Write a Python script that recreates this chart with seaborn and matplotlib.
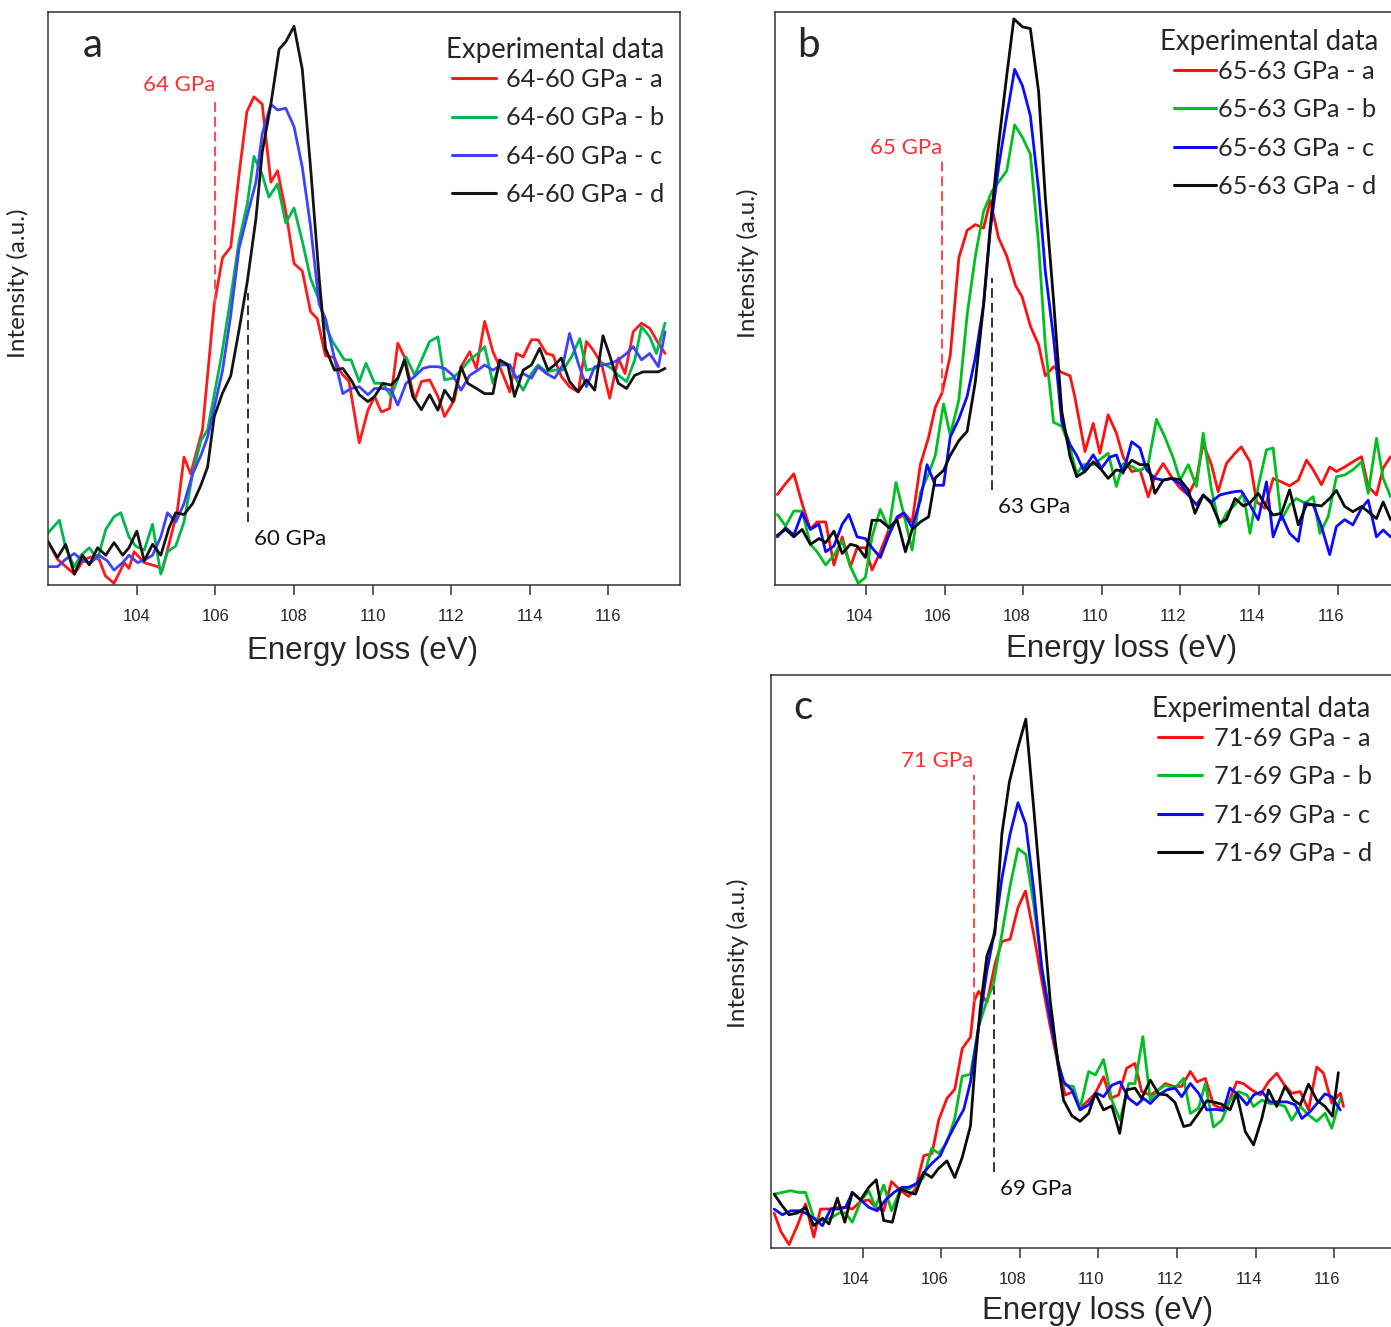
import matplotlib
matplotlib.use("Agg")
import matplotlib.pyplot as plt
import matplotlib.transforms as mtransforms
import pandas as pd
import seaborn as sns

sns.set_style("white")
plt.rcParams['font.family'] = ['Lato', 'DejaVu Sans']

# ---- data: (energy loss eV, intensity a.u.) ----
A_RED = [(101.73, 7.7), (101.98, 4.5), (102.41, 1.9), (102.66, 4.5), (103.0, 5.2), (103.2, 1.6), (103.42, 0.3),
         (103.68, 3.9), (103.8, 2.9), (103.93, 5.8), (104.19, 3.9), (104.53, 3.2), (104.65, 2.6), (105.03, 12.9),
         (105.2, 22.3), (105.37, 19.4), (105.67, 27.1), (105.97, 49), (106.18, 57.1), (106.39, 59), (106.6, 71.6),
         (106.8, 82.6), (106.98, 85.2), (107.19, 83.9), (107.41, 70.3), (107.58, 72.3), (107.79, 65.2), (108.0, 56.1),
         (108.21, 54.8), (108.42, 47.7), (108.59, 46.5), (108.8, 40), (109.02, 39.7), (109.19, 37.1), (109.4, 35.5),
         (109.66, 24.8), (109.88, 30.5), (110.05, 32.9), (110.22, 30.2), (110.43, 30.8), (110.64, 42.2), (110.81, 39.8),
         (111.07, 32.3), (111.24, 35.5), (111.45, 35.8), (111.66, 32.9), (111.83, 29.4), (112.08, 32.3), (112.25, 38.1),
         (112.47, 40.7), (112.64, 37.8), (112.85, 46), (113.06, 40.7), (113.27, 37.5), (113.49, 33.7), (113.66, 40.4),
         (113.83, 39.8), (114.04, 42.8), (114.21, 42.8), (114.42, 40.4), (114.59, 40.1), (114.8, 36.4), (115.01, 34.6),
         (115.23, 33.7), (115.44, 42.5), (115.61, 41), (115.82, 38.7), (116.03, 32.6), (116.25, 39.6), (116.42, 36.9),
         (116.63, 44.2), (116.84, 45.7), (117.05, 44.8), (117.27, 42.2), (117.44, 40.4)]
A_GREEN = [(101.73, 9), (102.03, 11.3), (102.19, 6.5), (102.41, 3.2), (102.58, 5.2), (102.79, 6.5), (103.0, 4.5),
           (103.21, 9.7), (103.42, 11.9), (103.59, 12.6), (103.8, 8.4), (103.97, 6.8), (104.19, 6.1), (104.4, 10.6),
           (104.61, 1.9), (104.78, 5.8), (104.99, 6.8), (105.2, 11), (105.42, 19.4), (105.63, 25.2), (105.8, 27.1),
           (106.14, 39.4), (106.35, 48.4), (106.6, 60), (106.81, 66.5), (106.98, 74.8), (107.19, 71.6), (107.36, 67.7),
           (107.58, 70), (107.79, 63.2), (108.0, 65.8), (108.21, 60), (108.42, 53.5), (108.64, 49.7), (108.8, 45.2),
           (108.98, 42.5), (109.28, 39.3), (109.45, 39.3), (109.66, 35.5), (109.83, 38.7), (110.05, 35.2), (110.26, 35.2),
           (110.47, 32.9), (110.85, 39.8), (111.07, 36.6), (111.45, 42.5), (111.66, 43.3), (111.83, 35.8), (112.04, 36.1),
           (112.25, 37.5), (112.47, 39.3), (112.68, 40.4), (112.85, 41.6), (113.06, 35.2), (113.27, 39), (113.49, 38.4),
           (113.66, 35.8), (113.83, 34), (114.04, 36.9), (114.21, 38.4), (114.42, 37.2), (114.63, 37.5), (114.84, 37.5),
           (115.06, 39.8), (115.27, 43), (115.44, 37.5), (115.65, 37.8), (115.86, 38.7), (116.08, 37.8), (116.25, 36.6),
           (116.46, 35.5), (116.67, 39.3), (116.84, 45.1), (117.05, 43.3), (117.22, 40.4), (117.44, 45.7)]
A_BLUE = [(101.73, 3.2), (101.98, 3.2), (102.19, 4.5), (102.41, 5.5), (102.62, 4.2), (102.83, 3.9), (103.04, 5.2),
          (103.25, 4.2), (103.42, 2.6), (103.64, 3.9), (103.8, 5.2), (104.02, 3.9), (104.23, 4.5), (104.4, 5.2),
          (104.61, 8.4), (104.78, 12.6), (104.99, 11), (105.2, 14.2), (105.42, 19.4), (105.63, 22.6), (105.8, 25.8),
          (105.97, 31), (106.18, 37.4), (106.39, 47.1), (106.6, 58.7), (106.81, 64.5), (107.03, 70.3), (107.19, 78.7),
          (107.41, 83.9), (107.58, 82.9), (107.79, 83.2), (108.0, 80), (108.21, 72.9), (108.42, 62.6), (108.64, 49),
          (108.8, 46.5), (108.98, 41), (109.24, 33.4), (109.45, 34.3), (109.66, 34.6), (109.88, 33.2), (110.05, 34.3),
          (110.26, 34.3), (110.47, 34), (110.64, 31.4), (110.85, 35.2), (111.07, 36.4), (111.28, 37.8), (111.45, 38.1),
          (111.66, 38.1), (111.83, 37.8), (112.04, 36.6), (112.25, 34), (112.47, 36.6), (112.68, 37.5), (112.85, 38.4),
          (113.06, 37.5), (113.27, 38.4), (113.49, 38.4), (113.66, 36.1), (113.83, 36.9), (114.04, 36.1), (114.21, 38.1),
          (114.42, 36.9), (114.63, 36.1), (114.84, 38.4), (115.01, 43.9), (115.23, 38.7), (115.44, 34.6), (115.65, 38.1),
          (115.86, 38.4), (116.08, 38.7), (116.25, 39.3), (116.46, 40.4), (116.63, 41.6), (116.84, 39.3), (117.05, 40.4),
          (117.27, 38.1), (117.44, 44.2)]
A_BLACK = [(101.73, 7.7), (101.98, 4.8), (102.19, 7.1), (102.41, 1.9), (102.62, 5.2), (102.79, 3.5), (103.0, 6.5),
           (103.21, 5.2), (103.42, 7.4), (103.64, 5.2), (103.8, 6.5), (104.0, 9.4), (104.19, 4.2), (104.4, 7.1),
           (104.61, 5.2), (104.82, 10), (104.99, 12.6), (105.2, 12.3), (105.42, 14.2), (105.63, 17.4), (105.8, 20.6),
           (105.97, 29.4), (106.18, 33.5), (106.39, 36.5), (106.6, 44.5), (106.81, 52.9), (107.03, 63.9), (107.19, 75.5),
           (107.41, 83.9), (107.62, 93.5), (107.79, 94.8), (108.0, 97.5), (108.21, 90), (108.42, 72.9), (108.64, 53.5),
           (108.8, 41.3), (109.03, 37.5), (109.24, 37.8), (109.45, 35.8), (109.66, 33.2), (109.88, 32), (110.05, 32.9),
           (110.26, 35.2), (110.47, 34.9), (110.64, 36.1), (110.81, 39.3), (111.02, 32.9), (111.24, 30.6), (111.45, 33.2),
           (111.66, 30.5), (111.83, 34), (112.04, 32), (112.25, 38.1), (112.42, 35.2), (112.64, 34.3), (112.85, 33.4),
           (113.06, 33.4), (113.23, 39.3), (113.44, 38.4), (113.61, 32.9), (113.83, 37.5), (114.04, 38.4), (114.25, 41.3),
           (114.46, 37.5), (114.63, 38.4), (114.8, 39.6), (115.01, 35.5), (115.23, 33.7), (115.44, 35.8), (115.65, 34),
           (115.86, 43.5), (116.03, 40.1), (116.25, 35.2), (116.46, 34.3), (116.67, 36.6), (116.88, 37.2), (117.27, 37.2),
           (117.44, 37.8)]

B_RED = [(101.74, 15.8), (101.95, 17.7), (102.16, 19.4), (102.37, 14.2), (102.58, 9.7), (102.75, 11), (102.97, 11),
         (103.18, 3.5), (103.39, 8.4), (103.6, 3.2), (103.77, 6.5), (103.98, 6.5), (104.15, 2.6), (104.36, 5.8),
         (104.58, 9.7), (104.79, 11.6), (105.0, 12.3), (105.17, 11), (105.38, 21), (105.59, 25.8), (105.76, 31),
         (105.93, 33.5), (106.14, 40), (106.36, 57.1), (106.57, 61.9), (106.78, 62.9), (106.99, 62.3), (107.16, 67.1),
         (107.37, 60.6), (107.58, 57.4), (107.8, 52.3), (107.97, 50.3), (108.18, 45.2), (108.39, 41.9), (108.56, 36.5),
         (108.77, 38.1), (108.98, 37.1), (109.19, 36.5), (109.31, 32.9), (109.57, 23.3), (109.78, 28.2), (109.95, 23),
         (110.16, 29.7), (110.37, 26.5), (110.54, 22.4), (110.76, 19.8), (110.97, 20.1), (111.18, 15.4), (111.35, 18.9),
         (111.56, 21.2), (111.77, 18.9), (111.99, 16.9), (112.2, 15.7), (112.41, 18.6), (112.58, 24.7), (112.79, 21),
         (112.96, 16.3), (113.17, 21.2), (113.39, 23), (113.55, 24.1), (113.77, 21.5), (113.94, 14.5), (114.15, 13.4),
         (114.36, 18.6), (114.57, 18), (114.78, 17.3), (115.0, 18.3), (115.21, 21.8), (115.38, 20.1), (115.59, 17.5),
         (115.8, 20.6), (115.97, 19.8), (116.18, 20.6), (116.39, 21.5), (116.61, 22.4), (116.78, 17.2), (116.99, 15.7),
         (117.16, 20.4), (117.35, 22.4)]
B_GREEN = [(101.74, 12.3), (101.95, 10.3), (102.16, 12.9), (102.37, 12.9), (102.58, 7.1), (102.75, 5.8), (102.97, 3.5),
           (103.18, 5.2), (103.39, 7.7), (103.6, 3.2), (103.8, 0.3), (103.98, 1.3), (104.15, 8.4), (104.36, 13.2),
           (104.58, 9.7), (104.76, 17.9), (104.96, 12.3), (105.17, 6.1), (105.38, 16.1), (105.59, 19.4), (105.76, 22.6),
           (105.97, 31.6), (106.14, 26.1), (106.36, 32.3), (106.57, 47.1), (106.78, 57.4), (106.99, 65.2), (107.2, 68.7),
           (107.37, 70.3), (107.58, 72.3), (107.78, 80.3), (107.98, 78.1), (108.18, 75.2), (108.39, 59.4), (108.56, 41.9),
           (108.77, 28.4), (108.98, 27.7), (109.19, 23.9), (109.36, 19.4), (109.53, 21), (109.78, 21), (109.99, 22.1),
           (110.16, 23), (110.37, 17.2), (110.54, 21.2), (110.76, 20.7), (110.97, 19.8), (111.18, 21.2), (111.39, 28.9),
           (111.6, 25.9), (111.82, 22.1), (111.99, 18.3), (112.2, 21), (112.41, 17.2), (112.58, 26.5), (112.79, 16.6),
           (113.0, 10.2), (113.17, 12.5), (113.39, 14), (113.6, 16), (113.77, 9), (113.98, 17.2), (114.19, 23.6),
           (114.36, 23.9), (114.57, 11.4), (114.78, 14), (114.95, 15.1), (115.17, 14.3), (115.38, 15.4), (115.55, 9),
           (115.76, 11.9), (115.97, 18.9), (116.18, 19.2), (116.39, 20.1), (116.61, 21.5), (116.78, 16), (116.99, 25.6),
           (117.16, 18.6), (117.35, 15.4)]
B_BLUE = [(101.74, 8.4), (101.95, 10), (102.16, 8.7), (102.37, 12.6), (102.58, 9.7), (102.8, 10.6), (102.97, 5.8),
          (103.18, 6.8), (103.39, 10.6), (103.56, 12.3), (103.77, 8.4), (103.98, 8.1), (104.15, 6.5), (104.36, 4.8),
          (104.58, 8.7), (104.79, 11.9), (104.96, 12.6), (105.17, 10), (105.38, 14.8), (105.55, 21), (105.76, 17.4),
          (105.97, 17.4), (106.14, 25.8), (106.36, 29), (106.57, 32.9), (106.78, 39.7), (106.99, 49), (107.16, 61.9),
          (107.37, 72.9), (107.58, 81.9), (107.78, 90), (107.98, 87.1), (108.18, 81.9), (108.39, 69), (108.56, 54.8),
          (108.77, 43.2), (108.98, 28.4), (109.19, 24.5), (109.36, 22.6), (109.53, 20.1), (109.78, 22.7), (109.99, 20.4),
          (110.2, 22.3), (110.37, 22.7), (110.54, 19.5), (110.76, 25), (110.97, 23.9), (111.14, 20.1), (111.35, 18.6),
          (111.56, 18.3), (111.77, 18.6), (111.99, 17.7), (112.2, 15.7), (112.41, 14), (112.58, 15.7), (112.79, 14.5),
          (113.0, 15.7), (113.17, 16), (113.39, 16.3), (113.55, 16.4), (113.77, 14), (113.98, 11.4), (114.19, 18),
          (114.36, 8.4), (114.57, 12.2), (114.78, 9), (115.0, 7.6), (115.17, 14.3), (115.38, 14), (115.59, 10.2),
          (115.8, 5.3), (115.97, 10.2), (116.18, 11.4), (116.39, 10.5), (116.61, 13.4), (116.78, 14.8), (116.99, 8.4),
          (117.16, 9.6), (117.35, 8.4)]
B_BLACK = [(101.74, 8.7), (101.95, 9.7), (102.16, 8.4), (102.37, 9.7), (102.58, 7.1), (102.8, 8.1), (102.97, 7.4),
           (103.18, 9.4), (103.39, 5.5), (103.6, 7.1), (103.77, 6.8), (103.98, 4.8), (104.15, 11.3), (104.36, 11.3),
           (104.58, 10), (104.79, 11.3), (105.0, 5.8), (105.17, 9.7), (105.38, 11), (105.59, 11.9), (105.76, 18.7),
           (105.97, 20), (106.14, 22.6), (106.36, 25.2), (106.57, 26.8), (106.78, 35.5), (106.99, 49), (107.16, 62.6),
           (107.37, 76.8), (107.58, 89), (107.76, 98.8), (107.98, 97.4), (108.18, 97.1), (108.39, 86.1), (108.56, 67.7),
           (108.77, 49.7), (108.98, 30.3), (109.19, 22.4), (109.36, 18.9), (109.57, 19.8), (109.78, 21.5), (109.99, 20.1),
           (110.16, 18.6), (110.37, 20.1), (110.54, 19.8), (110.76, 21.8), (110.97, 21), (111.18, 21), (111.35, 16),
           (111.56, 18.3), (111.77, 18.6), (111.99, 18.4), (112.2, 16.6), (112.37, 12.5), (112.58, 15.7), (112.79, 14.2),
           (113.0, 10.8), (113.17, 11.4), (113.39, 15.1), (113.6, 13.8), (113.77, 14.3), (113.98, 16), (114.19, 13.7),
           (114.36, 12.2), (114.57, 12.5), (114.78, 16.6), (115.0, 10.5), (115.21, 14), (115.38, 14), (115.59, 13.8),
           (115.8, 15.1), (115.97, 16.5), (116.18, 13.7), (116.39, 12.8), (116.61, 13.7), (116.78, 12.8), (116.99, 11.6),
           (117.16, 14.5), (117.35, 11.4)]

C_RED = [(101.74, 6.1), (101.91, 2.9), (102.12, 0.6), (102.33, 3.9), (102.54, 7.7), (102.75, 1.9), (102.92, 6.8),
         (103.14, 6.8), (103.35, 7.1), (103.56, 7.1), (103.73, 6.8), (103.94, 8.1), (104.15, 8.4), (104.32, 7.1),
         (104.53, 6.5), (104.73, 11.6), (104.96, 10), (105.17, 9), (105.34, 10.3), (105.55, 16.1), (105.76, 16.5),
         (105.93, 22.3), (106.14, 26.1), (106.34, 27.7), (106.53, 34.8), (106.74, 36.8), (106.84, 43.2), (106.95, 44.8),
         (107.16, 42.9), (107.37, 49.7), (107.54, 53.5), (107.75, 53.9), (107.95, 59.4), (108.14, 62.3), (108.35, 54.8),
         (108.56, 46.5), (108.77, 38.7), (108.98, 31.6), (109.15, 26.7), (109.36, 27.3), (109.53, 24.4), (109.75, 25.8),
         (109.92, 27), (110.13, 29.9), (110.3, 26.1), (110.51, 26.7), (110.72, 31.4), (110.93, 32.2), (111.1, 27.3),
         (111.32, 26.7), (111.53, 27.6), (111.7, 28.7), (111.91, 28.2), (112.12, 28.2), (112.34, 30.8), (112.51, 29),
         (112.72, 29.6), (112.93, 25), (113.1, 24.4), (113.31, 25.3), (113.52, 29), (113.69, 28.7), (113.9, 27.6),
         (114.12, 26.7), (114.33, 29), (114.54, 30.5), (114.71, 28.7), (114.92, 27), (115.14, 27.3), (115.35, 24.1),
         (115.56, 31.6), (115.73, 30.5), (115.94, 25.3), (116.16, 27), (116.24, 24.7)]
C_GREEN = [(101.74, 9.4), (101.95, 9.7), (102.16, 10), (102.37, 9.7), (102.54, 9.7), (102.75, 5.2), (102.97, 4.8),
           (103.18, 5.2), (103.39, 6.1), (103.56, 6.1), (103.73, 4.5), (103.94, 8.1), (104.15, 10), (104.32, 7.1),
           (104.53, 11), (104.73, 6.5), (104.96, 10.3), (105.17, 10.3), (105.34, 11), (105.55, 12.3), (105.75, 17.4),
           (105.93, 16.5), (106.14, 18.4), (106.34, 22.6), (106.53, 30), (106.74, 30.3), (106.95, 38.7), (107.16, 43.2),
           (107.33, 46.1), (107.54, 54.8), (107.75, 63.2), (107.95, 69.7), (108.15, 68.7), (108.35, 60), (108.56, 49),
           (108.77, 40.6), (108.98, 31.6), (109.15, 28.4), (109.36, 28.2), (109.53, 24.4), (109.75, 30.8), (109.92, 30.2),
           (110.13, 32.9), (110.34, 25.8), (110.55, 22.3), (110.77, 28.7), (110.93, 28.7), (111.13, 36.9), (111.32, 25.8),
           (111.53, 27.6), (111.7, 28.4), (111.95, 27.9), (112.17, 29.6), (112.34, 23.5), (112.55, 24.4), (112.72, 28.7),
           (112.93, 21.1), (113.14, 22.3), (113.35, 25.8), (113.57, 27.3), (113.78, 26.7), (113.95, 24.7), (114.16, 25.8),
           (114.37, 25.2), (114.54, 25.2), (114.75, 24.7), (114.92, 22.3), (115.14, 24.7), (115.35, 23.2), (115.56, 22.1),
           (115.77, 23.5), (115.94, 20.9), (116.16, 26.1)]
C_BLUE = [(101.74, 6.8), (101.95, 5.8), (102.16, 6.5), (102.37, 6.5), (102.54, 6.1), (102.75, 5.2), (102.97, 3.9),
          (103.18, 6.8), (103.39, 6.8), (103.56, 7.1), (103.73, 9.7), (103.94, 8.4), (104.15, 7.1), (104.36, 6.5),
          (104.58, 8.4), (104.79, 9.7), (105.0, 10.6), (105.17, 10.6), (105.38, 11.3), (105.59, 13.5), (105.76, 14.8),
          (105.97, 16.1), (106.14, 18.7), (106.36, 21.6), (106.57, 24.2), (106.74, 29), (106.95, 38.7), (107.16, 48.4),
          (107.36, 55.5), (107.54, 64.5), (107.75, 72.3), (107.95, 77.7), (108.15, 73.9), (108.35, 62.6), (108.56, 48.4),
          (108.77, 40), (108.98, 32.3), (109.11, 29), (109.32, 27.6), (109.53, 24.1), (109.75, 25), (109.96, 27),
          (110.13, 26.4), (110.34, 28.4), (110.55, 29), (110.77, 26.1), (110.98, 25), (111.15, 26.1), (111.32, 25.2),
          (111.53, 26.7), (111.74, 27.6), (111.95, 27.9), (112.12, 26.4), (112.34, 28.7), (112.55, 27), (112.76, 24.1),
          (112.97, 24.2), (113.18, 24), (113.35, 27.9), (113.57, 26.7), (113.78, 25), (113.95, 26.7), (114.16, 27.3),
          (114.37, 25.5), (114.58, 25.5), (114.8, 25.5), (115.01, 25), (115.18, 22.6), (115.39, 23.8), (115.6, 25.5),
          (115.77, 26.9), (115.94, 26.4), (116.16, 24.1)]
C_BLACK = [(101.74, 9.4), (101.91, 7.7), (102.12, 5.8), (102.33, 6.1), (102.54, 7.1), (102.75, 3.9), (102.97, 5.2),
           (103.14, 4.2), (103.35, 8.7), (103.54, 4.5), (103.73, 9.7), (103.94, 8.4), (104.15, 10.6), (104.34, 11.9),
           (104.53, 4.8), (104.75, 4.5), (104.96, 10.3), (105.17, 9.7), (105.34, 9.4), (105.55, 13.2), (105.75, 12.3),
           (105.93, 13.9), (106.14, 15.2), (106.34, 12.3), (106.53, 15.8), (106.74, 21.3), (106.86, 32.3), (106.99, 41.9),
           (107.16, 51), (107.36, 54.8), (107.54, 72.3), (107.73, 81.3), (107.95, 87.4), (108.15, 92.3), (108.35, 76.8),
           (108.56, 60), (108.77, 43.2), (108.98, 31.6), (109.11, 25.8), (109.32, 23.1), (109.53, 22.1), (109.75, 23.5),
           (109.92, 27), (110.13, 24.1), (110.34, 24.8), (110.54, 20), (110.72, 27.6), (110.93, 27.9), (111.1, 26.1),
           (111.32, 29.3), (111.53, 26.9), (111.74, 26.7), (111.95, 25.4), (112.17, 21.2), (112.34, 21.5), (112.55, 23.5),
           (112.76, 25.7), (112.97, 25.4), (113.14, 25.1), (113.35, 24.1), (113.52, 27), (113.74, 20.3), (113.95, 18),
           (114.16, 22.6), (114.33, 27.6), (114.54, 24.7), (114.75, 28.2), (114.97, 25.8), (115.14, 25), (115.35, 28.6),
           (115.56, 25.8), (115.77, 24.7), (115.96, 23), (116.11, 30.6)]

A_LABELS = ["64-60 GPa - a", "64-60 GPa - b", "64-60 GPa - c", "64-60 GPa - d"]
B_LABELS = ["65-63 GPa - a", "65-63 GPa - b", "65-63 GPa - c", "65-63 GPa - d"]
C_LABELS = ["71-69 GPa - a", "71-69 GPa - b", "71-69 GPa - c", "71-69 GPa - d"]
LEGEND_TITLE = "Experimental data"

# onset markers: (energy, y bottom, y top, text)
A_HIGH = (106.0, 49, 85, "64 GPa")
A_LOW = (106.83, 11, 51, "60 GPa")
B_HIGH = (105.93, 33.5, 74, "65 GPa")
B_LOW = (107.2, 16.5, 53.5, "63 GPa")
C_HIGH = (106.82, 43, 82.6, "71 GPa")
C_LOW = (107.33, 13.2, 45.8, "69 GPa")

COLORS_A = ["#ff1a1a", "#00b850", "#4040ff", "#141414"]
COLORS_BC = ["#ff1010", "#00c020", "#0a0aff", "#0a0a0a"]

W, H = 1391, 1327
fig = plt.figure(figsize=(W / 100, H / 100), dpi=100)


def px_axes(left, top, right, bottom):
    return fig.add_axes([left / W, 1 - bottom / H, (right - left) / W, (bottom - top) / H])


def draw_panel(ax, series, labels, colors, xlim, letter, letter_xy, high, low,
               title_xy, leg_anchor, handlelength, handletextpad, ylabel_xy, xlabel_xy, shift_ticks):
    for pts, lab, col in zip(series, labels, colors):
        d = pd.DataFrame(pts, columns=["energy", "intensity"])
        sns.lineplot(data=d, x="energy", y="intensity", color=col, lw=2.0,
                     label=lab, ax=ax, estimator=None, sort=False)
    ax.set_xlim(*xlim)
    ax.set_ylim(0, 100)
    ax.set_yticks([])
    ax.set_xticks([104, 106, 108, 110, 112, 114, 116])
    ax.tick_params(axis="x", direction="out", length=7, width=1.1, color="#333333",
                   pad=10.5, labelsize=12, bottom=True)
    for lab in ax.get_xticklabels():
        lab.set_fontfamily("Liberation Sans")
        if shift_ticks:
            lab.set_transform(lab.get_transform() +
                              mtransforms.ScaledTranslation(-7 / 100, 0, fig.dpi_scale_trans))
    for s in ax.spines.values():
        s.set_color("#333333")
        s.set_linewidth(1.1)

    ax.set_xlabel("Energy loss (eV)", fontsize=22.5, family="Liberation Sans")
    ax.xaxis.set_label_coords(*xlabel_xy)
    ax.set_ylabel("Intensity (a.u.)", fontsize=17.5)
    ax.yaxis.set_label_coords(*ylabel_xy)

    ax.text(letter_xy[0], letter_xy[1], letter, transform=ax.transAxes, fontsize=29,
            ha="center", va="center")

    # onset markers
    e, y0, y1, txt = high
    ax.plot([e, e], [y0, y1], color="#ff4a4a", lw=1.4, ls=(0, (5, 2.6)))
    ax.text(e, y1 + 0.6, txt, color="#ff3030", fontsize=16, ha="right", va="bottom")
    e, y0, y1, txt = low
    ax.plot([e, e], [y0, y1], color="#333333", lw=1.4, ls=(0, (5, 2.6)))
    ax.text(e + 0.15, y0 - 1.2, txt, color="#111111", fontsize=16, ha="left", va="top")

    # legend: title drawn as text, entries as a frameless legend below it
    ax.text(title_xy[0], title_xy[1], LEGEND_TITLE, transform=ax.transAxes, fontsize=19.8,
            ha="left", va="center")
    leg = ax.legend(loc="upper left", bbox_to_anchor=leg_anchor,
                    frameon=False, fontsize=18.3,
                    handlelength=handlelength, handletextpad=handletextpad, labelspacing=0.6,
                    borderpad=0, borderaxespad=0)
    for h in leg.legend_handles:
        h.set_linewidth(2.2)


ax_a = px_axes(48, 12, 680, 585)
draw_panel(ax_a, [A_RED, A_GREEN, A_BLUE, A_BLACK], A_LABELS, COLORS_A, (101.74, 117.82), "a",
           (0.071, 0.942), A_HIGH, A_LOW, (0.630, 0.934), (0.639, 0.902), 1.73, 0.4,
           (-0.030, 0.527), (0.498, -0.089), False)

ax_b = px_axes(775, 12, 1391, 585)
ax_b.spines["right"].set_visible(False)
draw_panel(ax_b, [B_RED, B_GREEN, B_BLUE, B_BLACK], B_LABELS, COLORS_BC, (101.68, 117.36), "b",
           (0.054, 0.942), B_HIGH, B_LOW, (0.625, 0.948), (0.648, 0.916), 1.65, 0.08,
           (-0.026, 0.562), (0.563, -0.086), True)

ax_c = px_axes(771, 675, 1391, 1248)
ax_c.spines["right"].set_visible(False)
draw_panel(ax_c, [C_RED, C_GREEN, C_BLUE, C_BLACK], C_LABELS, COLORS_BC, (101.66, 117.45), "c",
           (0.052, 0.944), C_HIGH, C_LOW, (0.6145, 0.941), (0.624, 0.909), 1.73, 0.48,
           (-0.036, 0.515), (0.527, -0.084), True)

fig.savefig("out.png", dpi=100)
